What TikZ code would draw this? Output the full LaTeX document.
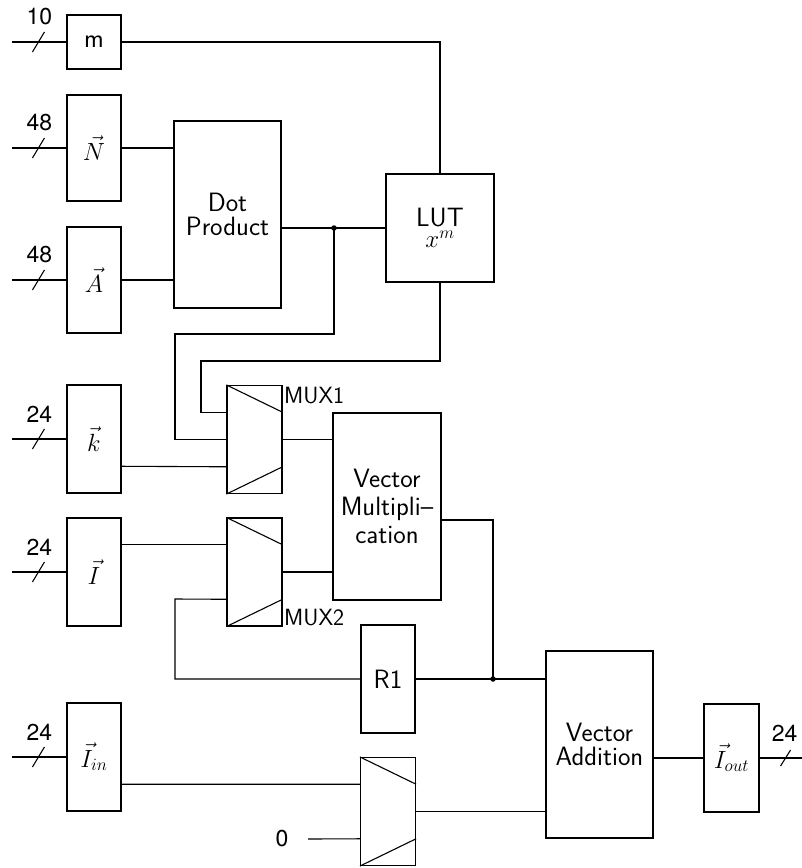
\documentclass[tikz,border=0pt]{standalone}
\usepackage{fontspec}
\newfontfamily\helv{TeX Gyre Heros}
\usetikzlibrary{calc}
\begin{document}
\begin{tikzpicture}[x=1pt,y=-1pt,line width=1.1pt,
  blk/.style={draw,rectangle,inner sep=0pt,align=center,font=\fontsize{26.5}{24}\selectfont\sffamily},
  mux/.style={draw,rectangle,inner sep=0pt,minimum width=55pt,minimum height=108pt},
  muxlabel/.style={inner sep=1pt,font=\fontsize{23.5}{24}\selectfont\sffamily},
  num/.style={inner sep=0pt,font=\helv\fontsize{23}{24}\selectfont},
  jdot/.style={circle,fill,inner sep=0pt,minimum size=5.5pt}]
\useasboundingbox (0,0) rectangle (802,868);
% input registers
\node[blk,minimum width=54pt,minimum height=54pt] (m) at (94,42) {m};
\node[blk,minimum width=54pt,minimum height=106pt] (N) at (94,148) {$\vec N$};
\node[blk,minimum width=54pt,minimum height=106pt] (A) at (94,280) {$\vec A$};
\node[blk,minimum width=54pt,minimum height=108pt] (k) at (94,439) {$\vec k$};
\node[blk,minimum width=54pt,minimum height=108pt] (I) at (94,572) {$\vec I$};
\node[blk,minimum width=54pt,minimum height=108pt] (Iin) at (94,757) {$\vec I_{in}$};
% processing blocks
\node[blk,minimum width=107pt,minimum height=187pt] (DP) at (227.5,214.5) {Dot\\Product};
\node[blk,minimum width=108pt,minimum height=108pt] (LUT) at (440,228) {LUT\\[-3pt]$x^m$};
\node[blk,minimum width=108pt,minimum height=187pt,font=\fontsize{26.5}{28}\selectfont\sffamily] (VM) at (387,506.5) {Vector\\Multipli--\\cation};
\node[blk,minimum width=54pt,minimum height=108pt] (R1) at (388,679) {R1};
\node[blk,minimum width=107pt,minimum height=187pt] (VA) at (599.5,744.5) {Vector\\Addition};
\node[blk,minimum width=55pt,minimum height=108pt] (Iout) at (731.5,758) {$\vec I_{out}$};
% multiplexers
\node[mux] (M1) at (254.5,439.5) {};
\node[mux] (M2) at (254.5,572) {};
\node[mux] (M3) at (388,811.5) {};
\foreach \mm in {M1,M2,M3}{
  \draw (\mm.north west) -- ($(\mm.north east)!0.25!(\mm.south east)$);
  \draw (\mm.south west) -- ($(\mm.north east)!0.75!(\mm.south east)$);
}
\node[muxlabel,anchor=north west] (L1) at ([yshift=-1pt]M1.north east) {MUX1};
\node[muxlabel,anchor=south west] (L2) at ([yshift=-1pt]M2.south east) {MUX2};
% bus inputs
\foreach \b/\w in {m/10,N/48,A/48,k/24,I/24,Iin/24}{
  \coordinate (src\b) at ($(\b.west)+(-54,0)$);
  \coordinate (sl\b) at ($(\b.west)+(-28,0)$);
  \draw (src\b) -- (\b.west);
  \draw ($(sl\b)+(-6,10)$) -- ($(sl\b)+(6,-10)$);
  \node[num] (lab\b) at ($(sl\b)+(1,-25)$) {\w};
}
% output bus
\coordinate (dst) at ($(Iout.east)+(43,0)$);
\coordinate (slout) at ($(Iout.east)+(26,0)$);
\draw (Iout.east) -- (dst);
\draw ($(slout)+(-5,8)$) -- ($(slout)+(5,-8)$);
\node[num] (labout) at ($(slout)+(-1,-25)$) {24};
% junctions
\coordinate (J) at (334,228);
\coordinate (J2) at (493,679);
% wiring
\draw (m.east) -| (LUT.north);
\draw (N.east) -- (N.east -| DP.west);
\draw (A.east) -- (A.east -| DP.west);
\draw (DP.east |- LUT.west) -- (LUT.west);
\draw (J) |- (175,334) |- ($(M1.north west)!0.5!(M1.south west)$);
\draw (LUT.south) |- (201,361) |- ($(M1.north west)!0.25!(M1.south west)$);
\draw ($(k.north east)!0.75!(k.south east)$) -- ($(M1.north west)!0.75!(M1.south west)$);
\draw (M1.east) -- (M1.east -| VM.west);
\draw ($(I.north east)!0.25!(I.south east)$) -- ($(M2.north west)!0.25!(M2.south west)$);
\draw (M2.east) -- (M2.east -| VM.west);
\draw (R1.west) -| (175,599) -- ($(M2.north west)!0.75!(M2.south west)$);
\draw ([yshift=-13.5pt]VM.east) -| (J2);
\draw (R1.east) -- (J2) -- (J2 -| VA.west);
\draw ($(Iin.north east)!0.75!(Iin.south east)$) -- ($(M3.north west)!0.25!(M3.south west)$);
\node[num] (zero) at (282,839) {0};
\coordinate (z0) at (308,839);
\draw (z0) -- ($(M3.north west)!0.75!(M3.south west)$);
\draw (M3.east) -- (M3.east -| VA.west);
\draw (Iout.west -| VA.east) -- (Iout.west);
\node[jdot] at (J) {};
\node[jdot] at (J2) {};
\end{tikzpicture}
\end{document}
